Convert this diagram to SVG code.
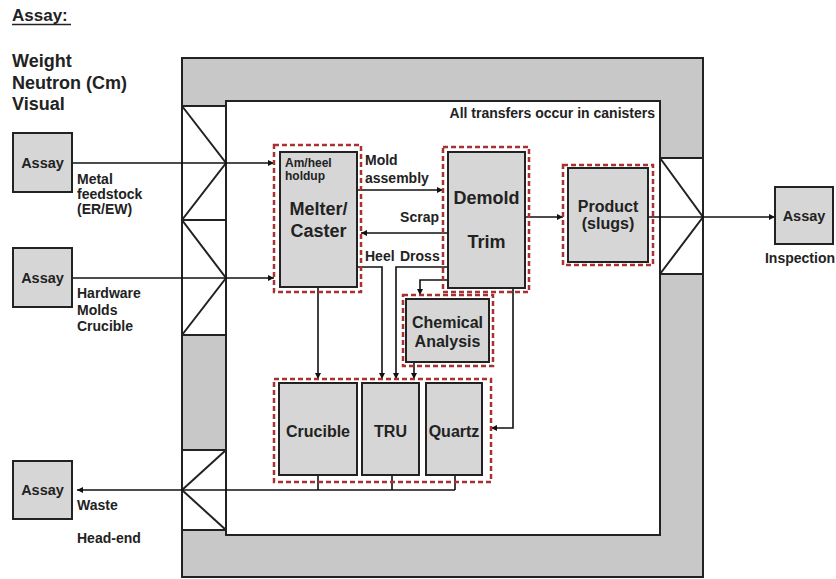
<svg xmlns="http://www.w3.org/2000/svg" width="836" height="579" viewBox="0 0 836 579">
<defs>
<marker id="ah" viewBox="0 0 10 10" refX="10" refY="5" markerWidth="7" markerHeight="6" orient="auto" markerUnits="userSpaceOnUse">
<path d="M0,0 L10,5 L0,10 z" fill="#111"/>
</marker>
<style>
text{font-family:"Liberation Sans",Arial,sans-serif;font-weight:bold;fill:#222}
.box{fill:#d6d6d6;stroke:#222;stroke-width:2}
.grp{fill:none;stroke:#a83232;stroke-width:2.5;stroke-dasharray:5 3}
.wall{fill:#c8c8c8;stroke:#222;stroke-width:2}
.lock{fill:#fff;stroke:#222;stroke-width:2}
.diag{fill:none;stroke:#222;stroke-width:2}
.ln{fill:none;stroke:#111;stroke-width:1.6}
.arr{fill:none;stroke:#111;stroke-width:1.6;marker-end:url(#ah)}
.big{font-size:18px}
.mid{font-size:16px}
.sm{font-size:14px}
.xs{font-size:12px}
.c{text-anchor:middle}
</style>
</defs>

<g id="legend">
<text x="12" y="21" style="font-size:17px">Assay:</text>
<line x1="12" y1="24.5" x2="71" y2="24.5" stroke="#222" stroke-width="1.5"/>
<text x="12" y="67" class="big">Weight</text>
<text x="12" y="89" class="big">Neutron (Cm)</text>
<text x="12" y="110" class="big">Visual</text>
</g>

<g id="building">
<rect class="wall" x="182" y="58" width="521" height="519"/>
<rect x="226" y="101" width="434" height="434" fill="#fff" stroke="#222" stroke-width="2"/>
<rect class="lock" x="182" y="106" width="44" height="114"/>
<rect class="lock" x="182" y="220" width="44" height="115"/>
<rect class="lock" x="182" y="450" width="44" height="80"/>
<rect class="lock" x="660" y="158" width="43" height="116"/>
<path class="diag" d="M182,106 L226,163 L182,220 L226,278 L182,335"/>
<path class="diag" d="M226,450 L182,490 L226,530"/>
<path class="diag" d="M660,158 L703,217 L660,274"/>
<text x="655" y="118" class="sm" style="text-anchor:end">All transfers occur in canisters</text>
</g>

<g id="connectors">
<path class="arr" d="M72,163 H274"/>
<path class="arr" d="M72,278 H274"/>
<path class="arr" d="M357,190 H443"/>
<path class="arr" d="M448,233 H361"/>
<path class="arr" d="M357,267 H382 V379"/>
<path class="arr" d="M448,267 H396 V379"/>
<path class="arr" d="M448,280 H420 V295"/>
<path class="arr" d="M414,362 V379"/>
<path class="arr" d="M318,287 V379"/>
<path class="arr" d="M513,288 V428 H491"/>
<path class="arr" d="M525,217 H563"/>
<path class="arr" d="M648,217 H775"/>
<path class="ln" d="M318,475 V490 M392,475 V490 M455,475 V490"/>
<path class="arr" d="M455,490 H77"/>
<text x="77" y="184" class="sm">Metal</text>
<text x="77" y="199" class="sm">feedstock</text>
<text x="77" y="214" class="sm">(ER/EW)</text>
<text x="77" y="298" class="sm">Hardware</text>
<text x="77" y="314.5" class="sm">Molds</text>
<text x="77" y="331" class="sm">Crucible</text>
<text x="77" y="510" class="sm">Waste</text>
<text x="77" y="543" class="sm">Head-end</text>
<text x="365" y="165" class="sm">Mold</text>
<text x="365" y="183" class="sm">assembly</text>
<text x="439" y="222" class="sm" style="text-anchor:end">Scrap</text>
<text x="365" y="261" class="sm">Heel</text>
<text x="400" y="261" class="sm">Dross</text>
<text x="800" y="263" class="sm c">Inspection</text>
</g>

<g id="assay-feed">
<rect class="box" x="13" y="133" width="59" height="59"/>
<text x="42.5" y="168" class="c" style="font-size:14.5px">Assay</text>
</g>
<g id="assay-hardware">
<rect class="box" x="13" y="248" width="59" height="59"/>
<text x="42.5" y="283" class="c" style="font-size:14.5px">Assay</text>
</g>
<g id="assay-waste">
<rect class="box" x="13" y="461" width="59" height="58"/>
<text x="42.5" y="495" class="c" style="font-size:14.5px">Assay</text>
</g>
<g id="assay-inspection">
<rect class="box" x="775" y="187" width="58" height="57"/>
<text x="804" y="221" class="c" style="font-size:14.5px">Assay</text>
</g>

<g id="melter">
<rect class="grp" x="274" y="145" width="87" height="147"/>
<rect class="box" x="280" y="152" width="77" height="135"/>
<text x="285" y="167" class="xs">Am/heel</text>
<text x="285" y="180" class="xs">holdup</text>
<text x="318.5" y="215" class="big c">Melter/</text>
<text x="318.5" y="237" class="big c">Caster</text>
</g>

<g id="demold">
<rect class="grp" x="443" y="147" width="86" height="145"/>
<rect class="box" x="448" y="152" width="77" height="136"/>
<text x="486.5" y="204" class="big c">Demold</text>
<text x="486.5" y="248" class="big c">Trim</text>
</g>

<g id="product">
<rect class="grp" x="563" y="165" width="90" height="100"/>
<rect class="box" x="568" y="168" width="80" height="94"/>
<text x="608" y="212" class="mid c">Product</text>
<text x="608" y="229" class="mid c">(slugs)</text>
</g>

<g id="chemical">
<rect class="grp" x="403" y="295" width="90" height="71"/>
<rect class="box" x="406" y="299" width="83" height="63"/>
<text x="447.5" y="328" class="mid c">Chemical</text>
<text x="447.5" y="347" class="mid c">Analysis</text>
</g>

<g id="waste-containers">
<rect class="grp" x="274" y="379" width="217" height="103"/>
<g id="crucible">
<rect class="box" x="279" y="383" width="78" height="92"/>
<text x="318" y="437" class="mid c">Crucible</text>
</g>
<g id="tru">
<rect class="box" x="362" y="383" width="57" height="92"/>
<text x="390.5" y="437" class="mid c">TRU</text>
</g>
<g id="quartz">
<rect class="box" x="426" y="383" width="56" height="92"/>
<text x="454" y="437" class="mid c">Quartz</text>
</g>
</g>
</svg>
